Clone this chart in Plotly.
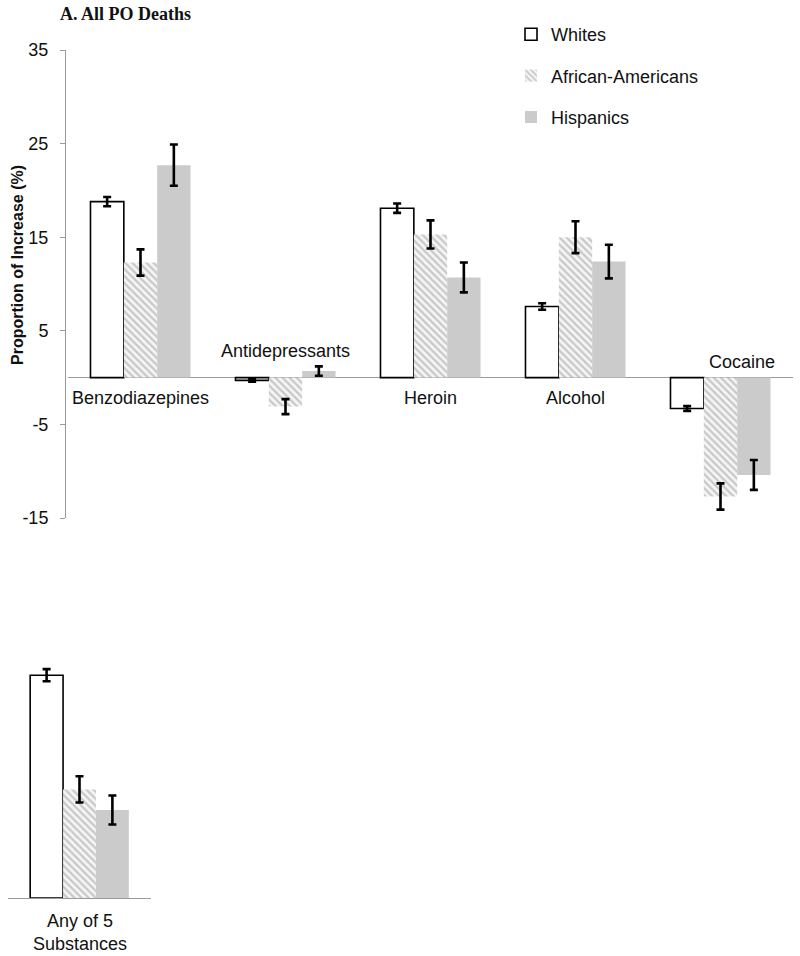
import plotly.graph_objects as go

# ---------------- data ----------------
categories = ["Benzodiazepines", "Antidepressants", "Heroin", "Alcohol", "Cocaine"]
series_names = ["Whites", "African-Americans", "Hispanics"]

whites = [18.8, -0.3, 18.1, 7.6, -3.3]
whites_err = [0.5, 0.15, 0.5, 0.35, 0.25]
african_americans = [12.3, -3.1, 15.3, 15.0, -12.7]
african_americans_err = [1.4, 0.8, 1.5, 1.7, 1.4]
hispanics = [22.7, 0.7, 10.7, 12.4, -10.4]
hispanics_err = [2.2, 0.5, 1.6, 1.8, 1.6]

any_category = ["Any of 5 Substances"]
any_whites = [23.8]
any_whites_err = [0.65]
any_african_americans = [11.6]
any_african_americans_err = [1.4]
any_hispanics = [9.4]
any_hispanics_err = [1.55]

y_ticks = [-15, -5, 5, 15, 25, 35]

# ---------------- layout helpers ----------------
W, H = 800, 956
def px_x(x):
    return x / W
def px_y(y):
    return 1 - y / H

FONT = "Arial, Liberation Sans, Helvetica, sans-serif"
GRAY = "#cbcbcb"
AXIS_GRAY = "#9a9a9a"

white_style = dict(marker=dict(color="white", line=dict(color="black", width=1.6)))
hatch_style = dict(marker=dict(color="#f3f3f3", line=dict(width=0),
                               pattern=dict(shape="\\", fgcolor="#c8c8c8", bgcolor="#f5f5f5",
                                            size=5, solidity=0.45, fillmode="replace")))
gray_style = dict(marker=dict(color=GRAY, line=dict(width=0)))
err_style = dict(type="data", visible=True, color="black", thickness=2.6, width=4)

fig = go.Figure()

top_series = [
    (series_names[0], whites, whites_err, white_style),
    (series_names[1], african_americans, african_americans_err, hatch_style),
    (series_names[2], hispanics, hispanics_err, gray_style),
]
for i, (name, vals, errs, style) in enumerate(top_series):
    fig.add_trace(go.Bar(x=categories, y=vals, name=name, legendgroup=name,
                         error_y=dict(array=errs, **err_style),
                         xaxis="x", yaxis="y", **style))

bottom_series = [
    (series_names[0], any_whites, any_whites_err, white_style),
    (series_names[1], any_african_americans, any_african_americans_err, hatch_style),
    (series_names[2], any_hispanics, any_hispanics_err, gray_style),
]
for name, vals, errs, style in bottom_series:
    fig.add_trace(go.Bar(x=any_category, y=vals, name=name, legendgroup=name,
                         showlegend=False,
                         error_y=dict(array=errs, **err_style),
                         xaxis="x2", yaxis="y2", **style))

# category labels (placed as in the original)
label_pos = {
    "Benzodiazepines": (-2.2, 0),
    "Antidepressants": (2.8, 0),
    "Heroin": (-2.2, 0),
    "Alcohol": (-2.2, 0),
    "Cocaine": (1.7, 21),
}
annotations = []
for c in categories:
    yv, xs = label_pos[c]
    annotations.append(dict(x=c, y=yv, xref="x", yref="y", text=c, showarrow=False,
                            xshift=xs, font=dict(family=FONT, size=18, color="#111"),
                            xanchor="center", yanchor="middle"))
annotations.append(dict(x=any_category[0], y=px_y(932), xref="x2", yref="paper",
                        text="Any of 5<br>Substances", showarrow=False,
                        font=dict(family=FONT, size=18, color="#111"),
                        xanchor="center", yanchor="middle"))
annotations.append(dict(x=px_x(58), y=px_y(14), xref="paper", yref="paper",
                        text="<b>A. All PO Deaths</b>", showarrow=False,
                        font=dict(family="Times New Roman, Liberation Serif, serif", size=18, color="#111"),
                        xanchor="left", yanchor="middle"))
annotations.append(dict(x=px_x(18), y=px_y(265), xref="paper", yref="paper",
                        text="<b>Proportion of Increase (%)</b>", showarrow=False, textangle=-90,
                        font=dict(family=FONT, size=16, color="#111"),
                        xanchor="center", yanchor="middle"))

fig.update_layout(
    width=W, height=H,
    margin=dict(l=0, r=0, t=0, b=0, pad=0, autoexpand=False),
    paper_bgcolor="white", plot_bgcolor="rgba(0,0,0,0)",
    barmode="group", bargap=0.31, bargroupgap=0,
    font=dict(family=FONT, size=18, color="#111"),
    showlegend=True,
    legend=dict(x=px_x(511), y=px_y(16), xanchor="left", yanchor="top",
                font=dict(family=FONT, size=18, color="#111"),
                tracegroupgap=15, bgcolor="rgba(0,0,0,0)", itemwidth=30),
    xaxis=dict(domain=[px_x(68), px_x(793)], anchor="y", showticklabels=False,
               showgrid=False, zeroline=False, showline=False, ticks=""),
    yaxis=dict(domain=[px_y(518), px_y(50)], range=[-15, 35], anchor="free",
               position=px_x(65), tickmode="array", tickvals=y_ticks,
               ticktext=[str(t) for t in y_ticks],
               showgrid=False, showline=True, linecolor=AXIS_GRAY, linewidth=1,
               ticks="outside", ticklen=5, tickcolor=AXIS_GRAY,
               ticklabelstandoff=8,
               zeroline=True, zerolinecolor=AXIS_GRAY, zerolinewidth=1.2,
               layer="above traces",
               tickfont=dict(family=FONT, size=18, color="#111")),
    xaxis2=dict(domain=[px_x(8), px_x(151)], anchor="y2", showticklabels=False,
                showgrid=False, zeroline=False, showline=True, linecolor=AXIS_GRAY,
                linewidth=1.2, ticks="", layer="above traces"),
    yaxis2=dict(domain=[px_y(898), px_y(654.6)], range=[0, 26], anchor="x2",
                visible=False, showgrid=False, zeroline=False),
    annotations=annotations,
)

fig.write_html("out.html", config={"displayModeBar": False},
               post_script="document.body.style.margin='0';document.body.style.overflow='hidden';")
